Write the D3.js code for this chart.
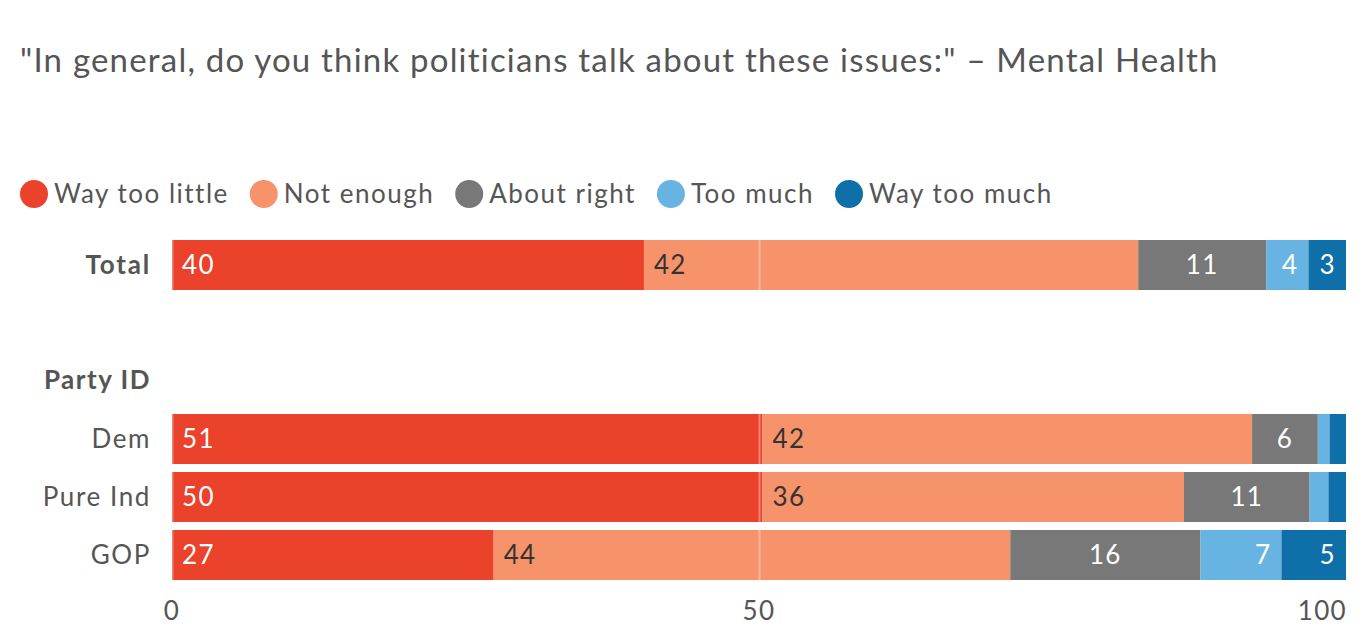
<!DOCTYPE html>
<html>
<head>
<meta charset="utf-8">
<script src="https://cdn.jsdelivr.net/npm/d3@7"></script>
<style>
  body { margin: 0; background: #fff; }
  svg { display: block; font-family: Lato, "Open Sans", sans-serif; letter-spacing: 1.3px; }
</style>
</head>
<body>
<svg id="chart" width="1368" height="642"></svg>
<script>
// Response categories and colors
const categories = ["Way too little", "Not enough", "About right", "Too much", "Way too much"];
const colors = ["#ea422b", "#f7936a", "#787878", "#67b4e3", "#0f6fa8"];

// Rows (segment widths, labels as printed)
const rows = ["Total", "Dem", "Pure Ind", "GOP"];
const totalValues = [40.2, 42.1, 10.9, 3.6, 3.2];
const demValues = [50.3, 41.7, 5.6, 1.0, 1.4];
const indValues = [50.3, 35.9, 10.7, 1.6, 1.5];
const gopValues = [27.4, 44.0, 16.2, 6.9, 5.5];
const totalLabels = ["40", "42", "11", "4", "3"];
const demLabels = ["51", "42", "6", "", ""];
const indLabels = ["50", "36", "11", "", ""];
const gopLabels = ["27", "44", "16", "7", "5"];
const xTicks = [0, 50, 100];

const data = [
  { name: rows[0], values: totalValues, labels: totalLabels, bold: true },
  { name: rows[1], values: demValues, labels: demLabels },
  { name: rows[2], values: indValues, labels: indLabels },
  { name: rows[3], values: gopValues, labels: gopLabels }
];

const svg = d3.select("#chart");
const textColor = "#555";

const x = d3.scaleLinear().domain([0, 100]).range([172, 1346]);
const rowY = { "Total": 240, "Dem": 414, "Pure Ind": 472, "GOP": 530 };
const barH = 50;

// Title
svg.append("text")
  .attr("x", 20).attr("y", 72)
  .attr("font-size", 33)
  .attr("letter-spacing", "1.2px")
  .attr("fill", textColor)
  .text("\"In general, do you think politicians talk about these issues:\" \u2013 Mental Health");

// Legend
let lx = 34;
categories.forEach((c, i) => {
  svg.append("circle").attr("cx", lx).attr("cy", 194).attr("r", 14).attr("fill", colors[i]);
  const t = svg.append("text")
    .attr("x", lx + 20).attr("y", 203)
    .attr("font-size", 26)
    .attr("letter-spacing", "1.5px")
    .attr("fill", textColor)
    .text(c);
  lx = lx + 20 + t.node().getComputedTextLength() + 35;
});

// Group header
svg.append("text")
  .attr("x", 151).attr("y", 389)
  .attr("text-anchor", "end")
  .attr("font-size", 26).attr("font-weight", "bold")
  .attr("letter-spacing", "1.5px")
  .attr("fill", textColor)
  .text("Party ID");

// Bars
data.forEach(row => {
  const y0 = rowY[row.name];
  const g = svg.append("g");
  let acc = 0;
  const segs = row.values.map((v, i) => {
    const s = { i: i, x0: acc, x1: acc + v, label: row.labels[i] };
    acc += v;
    return s;
  });

  g.selectAll("rect").data(segs).join("rect")
    .attr("x", d => x(d.x0))
    .attr("y", y0)
    .attr("width", d => x(d.x1) - x(d.x0))
    .attr("height", barH)
    .attr("fill", d => colors[d.i]);

  g.selectAll("text.val").data(segs.filter(d => d.label !== "")).join("text")
    .attr("class", "val")
    .attr("x", d => {
      if (d.i < 2) return x(d.x0) + 10;
      if (d.i === 2) return (x(d.x0) + x(d.x1)) / 2;
      return x(d.x1) - 10;
    })
    .attr("text-anchor", d => d.i < 2 ? "start" : (d.i === 2 ? "middle" : "end"))
    .attr("y", y0 + barH / 2 + 9)
    .attr("font-size", 26)
    .attr("fill", d => d.i === 1 ? "#333" : "#fff")
    .text(d => d.label);

  svg.append("text")
    .attr("x", 151).attr("y", y0 + barH / 2 + 9)
    .attr("text-anchor", "end")
    .attr("font-size", 26)
    .attr("font-weight", row.bold ? "bold" : "normal")
    .attr("letter-spacing", row.bold ? "1.8px" : "1.6px")
    .attr("fill", textColor)
    .text(row.name);
});

// Gridlines drawn over the bars
data.forEach(row => {
  const y0 = rowY[row.name];
  svg.selectAll(null).data(xTicks.slice(0, 2)).enter().append("line")
    .attr("x1", d => x(d) + 0.5).attr("x2", d => x(d) + 0.5)
    .attr("y1", y0).attr("y2", y0 + barH)
    .attr("stroke", "#fff").attr("stroke-opacity", 0.35).attr("stroke-width", 2);
});

// Axis labels
svg.selectAll("text.tick").data(xTicks).join("text")
  .attr("class", "tick")
  .attr("x", (d, i) => x(d) + (i === xTicks.length - 1 ? 1 : 0))
  .attr("y", 620)
  .attr("text-anchor", (d, i) => i === xTicks.length - 1 ? "end" : "middle")
  .attr("font-size", 26)
  .attr("fill", textColor)
  .text(d => d);
</script>
</body>
</html>
